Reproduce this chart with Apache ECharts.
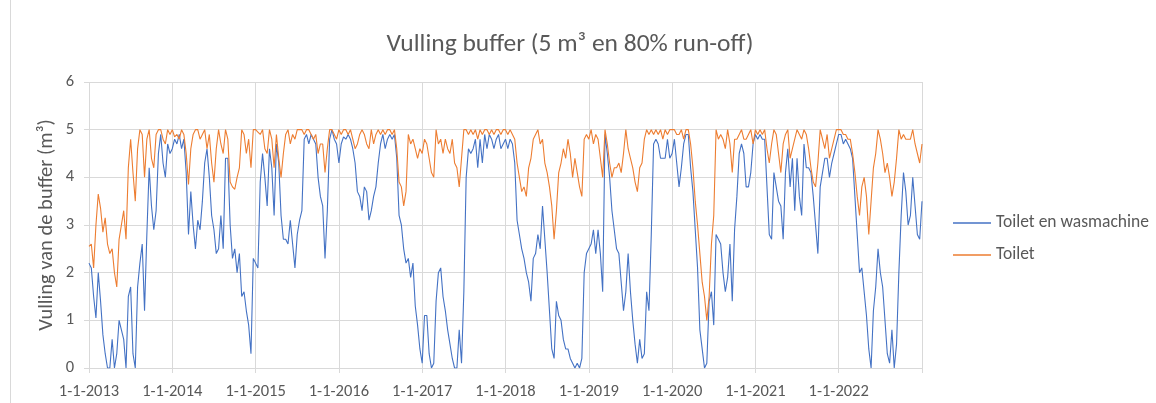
<!DOCTYPE html>
<html>
<head>
<meta charset="utf-8">
<script src="https://cdn.jsdelivr.net/npm/echarts@6/dist/echarts.min.js"></script>
<style>
html,body{margin:0;padding:0;background:#fff;}
#chart{width:1156px;height:403px;}
</style>
</head>
<body>
<div id="chart"></div>
<script>
// Years on the x axis (each row of the series arrays covers one year, sampled ~every 10 days)
const years = [2013, 2014, 2015, 2016, 2017, 2018, 2019, 2020, 2021, 2022, 2023];
const tickLabels = ['1-1-2013','1-1-2014','1-1-2015','1-1-2016','1-1-2017','1-1-2018','1-1-2019','1-1-2020','1-1-2021','1-1-2022',''];

// "Toilet en wasmachine" buffer fill (m3)
const toiletEnWasmachine = [
  [2.2,2.1,1.5,1.05,2.0,1.4,0.7,0.3,0.0,0.0,0.6,0.0,0.3,1.0,0.8,0.6,0.0,1.5,1.7,0.3,0.0,1.7,2.2,2.6,1.2,2.8,4.2,3.4,2.9,3.3,4.5,4.9,4.3,4.0,4.7,4.5],
  [4.6,4.8,4.7,4.9,4.6,4.8,4.1,2.8,3.7,3.0,2.5,3.1,2.9,3.5,4.3,4.6,4.0,3.2,2.9,2.4,2.5,3.2,2.5,4.4,4.4,3.0,2.3,2.5,2.0,2.4,1.5,1.6,1.2,0.9,0.3,2.3],
  [2.2,2.1,3.9,4.5,4.0,3.4,4.6,4.2,3.2,4.7,4.3,3.2,2.7,2.7,2.6,3.1,2.6,2.1,2.8,3.1,3.3,4.8,4.9,4.7,4.9,4.8,4.7,4.0,3.6,3.4,2.3,3.3,4.8,5.0,4.8,4.7],
  [4.3,4.7,4.85,4.8,4.9,4.8,4.6,4.3,3.7,3.6,3.3,3.8,3.7,3.1,3.3,3.6,3.8,4.3,4.7,4.9,4.6,4.8,4.9,4.8,4.9,4.4,3.2,3.0,2.5,2.2,2.3,1.9,2.2,1.3,0.9,0.4],
  [0.1,1.1,1.1,0.3,0.0,0.1,1.4,2.0,2.1,1.5,1.2,0.8,0.5,0.2,0.0,0.0,0.8,0.1,1.6,4.0,4.6,4.5,4.6,4.8,4.2,4.8,4.3,4.9,4.6,4.9,4.8,4.6,4.8,4.9,4.6,4.7],
  [4.8,4.6,4.8,4.7,4.3,3.1,2.8,2.5,2.3,2.0,1.8,1.4,2.3,2.4,2.8,2.5,3.4,2.7,2.0,1.2,0.4,0.2,1.4,1.1,1.0,0.6,0.4,0.4,0.2,0.1,0.0,0.1,0.0,0.2,2.0,2.4],
  [2.5,2.6,2.9,2.4,2.9,2.4,1.6,4.9,4.5,4.0,3.3,2.9,2.5,2.4,1.8,1.2,1.6,2.4,1.6,1.0,0.5,0.1,0.6,0.2,0.3,1.6,1.2,2.8,4.7,4.8,4.7,4.4,4.4,4.4,4.8,4.4],
  [4.5,4.8,4.3,3.8,4.2,4.7,4.9,4.9,4.2,3.7,2.9,2.1,0.8,0.4,0.0,0.1,1.4,1.6,0.9,2.8,2.7,2.6,2.0,1.6,1.9,2.6,1.4,2.9,3.6,4.5,4.7,4.5,3.8,3.8,4.1,4.7],
  [4.9,4.8,4.9,4.8,4.8,3.8,2.8,2.7,4.1,3.8,3.5,3.4,2.7,4.1,4.6,3.8,4.4,3.3,4.4,3.6,3.2,4.7,4.2,4.2,4.1,3.6,3.0,2.4,3.8,4.1,4.4,4.4,4.0,4.3,4.5,4.7],
  [4.9,4.9,4.7,4.8,4.7,4.6,4.4,3.6,2.8,2.0,2.1,1.6,1.1,0.4,0.0,1.2,1.7,2.5,2.0,1.7,1.0,0.3,0.1,0.8,0.0,0.5,2.0,3.2,4.1,3.7,3.0,3.2,4.0,3.4,2.8,2.7],
  [3.5]
];

// "Toilet" buffer fill (m3)
const toilet = [
  [2.55,2.6,2.1,3.0,3.65,3.35,2.85,3.15,2.6,2.4,2.5,2.0,1.7,2.7,3.0,3.3,2.7,4.2,4.8,4.1,3.5,4.6,5.0,4.9,4.0,4.8,5.0,4.4,4.2,4.9,5.0,5.0,4.8,4.7,5.0,4.9],
  [5.0,4.85,4.9,4.8,5.0,4.9,4.5,3.85,4.6,4.9,5.0,5.0,4.8,4.9,5.0,4.6,4.9,4.3,3.9,4.6,5.0,4.7,4.5,5.0,4.8,3.9,3.8,3.75,4.0,4.2,5.0,4.9,4.5,4.8,4.2,5.0],
  [5.0,4.95,4.9,5.0,4.6,4.5,5.0,4.8,4.2,4.9,4.4,4.0,4.5,4.9,5.0,4.7,4.9,4.8,5.0,5.0,5.0,4.9,5.0,5.0,4.9,4.8,4.9,4.5,4.7,4.7,4.1,4.6,5.0,5.0,4.9,4.8],
  [5.0,4.9,5.0,5.0,4.9,5.0,4.8,4.6,4.7,4.9,5.0,4.9,4.7,4.6,5.0,4.7,4.9,5.0,4.9,5.0,4.9,5.0,5.0,4.9,5.0,4.6,3.9,3.8,3.4,3.7,4.9,4.7,4.8,4.6,4.4,4.6],
  [4.5,4.8,4.7,4.4,4.1,4.0,5.0,4.7,4.8,4.5,4.8,4.6,4.5,4.8,4.3,4.2,3.8,4.4,5.0,5.0,4.9,5.0,4.9,5.0,4.8,5.0,4.9,5.0,5.0,4.9,5.0,4.9,5.0,5.0,4.9,5.0],
  [5.0,4.9,5.0,4.9,4.8,4.3,4.0,3.7,3.8,3.6,4.2,4.4,4.8,4.9,5.0,4.7,4.8,4.3,4.1,3.8,3.4,2.7,3.3,4.1,4.3,4.6,4.4,4.8,4.5,4.0,4.4,4.1,3.8,3.6,4.8,4.9],
  [4.8,5.0,4.7,4.9,4.8,4.4,4.0,5.0,4.7,4.3,4.0,4.2,4.2,4.3,4.1,4.5,5.0,4.6,4.4,4.2,3.9,3.7,4.2,4.3,4.8,5.0,4.9,5.0,4.9,5.0,4.9,5.0,4.8,5.0,4.9,5.0],
  [5.0,5.0,4.9,4.9,5.0,4.8,5.0,5.0,4.7,4.2,3.5,3.0,2.4,1.8,1.5,1.0,1.5,2.6,3.2,5.0,4.8,4.9,4.8,4.6,5.0,4.7,4.1,4.8,4.8,4.9,5.0,4.8,4.8,4.9,5.0,4.7],
  [5.0,4.9,5.0,4.9,5.0,4.6,4.3,4.7,5.0,4.9,4.5,4.1,4.7,4.9,5.0,4.4,4.6,4.8,5.0,4.9,4.8,5.0,4.9,4.6,4.2,3.9,3.8,4.3,5.0,4.8,4.6,4.9,4.4,4.6,4.8,5.0],
  [5.0,5.0,4.9,4.9,4.8,4.8,4.5,4.1,3.6,3.2,3.8,4.0,3.6,2.8,3.5,4.2,4.5,5.0,4.8,4.5,4.1,4.3,4.0,3.6,3.9,4.4,5.0,4.8,4.9,4.8,4.8,4.8,5.0,4.7,4.5,4.3],
  [4.7]
];

const yTicks = [0, 1, 2, 3, 4, 5, 6];

function toPoints(rows) {
  const pts = [];
  rows.forEach((row, i) => {
    row.forEach((v, k) => pts.push([years[i] + k / row.length, v]));
  });
  return pts;
}

const FONT = 'Carlito, Lato, "Liberation Sans", sans-serif';
const TXT = '#595959';
const GRID = '#d9d9d9';

const chart = echarts.init(document.getElementById('chart'), null, {renderer: 'canvas'});
chart.setOption({
  animation: false,
  backgroundColor: '#ffffff',
  textStyle: {fontFamily: FONT, color: TXT},
  title: {
    text: 'Vulling buffer (5 m³ en 80% run-off)',
    left: 570, top: 32, textAlign: 'center', padding: 0,
    textStyle: {fontFamily: FONT, fontSize: 25.5, fontWeight: 'normal', color: TXT}
  },
  grid: {left: 89, right: 234, top: 82, bottom: 35, containLabel: false},
  legend: {
    orient: 'vertical', left: 948, top: 209,
    icon: 'rect', itemWidth: 38, itemHeight: 1.4, itemGap: 14,
    textStyle: {fontFamily: FONT, fontSize: 17.5, color: TXT, padding: [0, 0, 0, 0]},
    data: ['Toilet en wasmachine', 'Toilet']
  },
  graphic: [{
    type: 'line', shape: {x1: 10.5, y1: 0, x2: 10.5, y2: 403},
    style: {stroke: GRID, lineWidth: 1}, silent: true
  }],
  xAxis: {
    type: 'value', min: years[0], max: years[years.length - 1], interval: 1,
    axisLine: {show: true, lineStyle: {color: GRID, width: 1}},
    axisTick: {show: true, length: 5, lineStyle: {color: GRID}},
    splitLine: {show: true, lineStyle: {color: GRID, width: 1}},
    axisLabel: {
      margin: 15, fontFamily: FONT, fontSize: 16.5, color: TXT,
      formatter: v => tickLabels[years.indexOf(Math.round(v))] || ''
    }
  },
  yAxis: {
    type: 'value', min: yTicks[0], max: yTicks[yTicks.length - 1], interval: 1,
    name: 'Vulling van de buffer (m³)', nameLocation: 'middle', nameGap: 32,
    nameMoveOverlap: false,
    nameTextStyle: {fontFamily: FONT, fontSize: 20.5, color: TXT},
    axisLine: {show: false},
    axisTick: {show: true, length: 5, lineStyle: {color: GRID}},
    splitLine: {show: true, lineStyle: {color: GRID, width: 1}},
    axisLabel: {margin: 15, fontFamily: FONT, fontSize: 16.5, color: TXT}
  },
  series: [
    {
      name: 'Toilet en wasmachine', type: 'line', data: toPoints(toiletEnWasmachine),
      symbol: 'none', showSymbol: false,
      lineStyle: {color: '#4472C4', width: 1.1}, itemStyle: {color: '#4472C4'}
    },
    {
      name: 'Toilet', type: 'line', data: toPoints(toilet),
      symbol: 'none', showSymbol: false,
      lineStyle: {color: '#ED7D31', width: 1.1}, itemStyle: {color: '#ED7D31'}
    }
  ]
});
</script>
</body>
</html>
